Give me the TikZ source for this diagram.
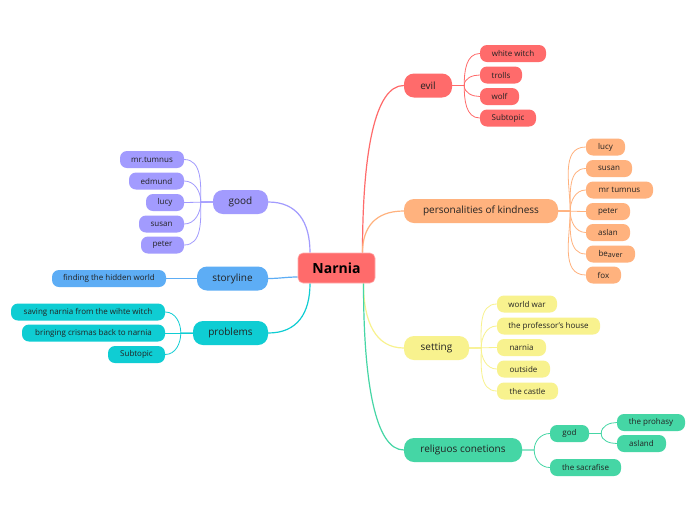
\documentclass[tikz,border=0pt]{standalone}
\usepackage{fontspec}
\setmainfont{Open Sans}
\usetikzlibrary{backgrounds,calc}
\definecolor{cred}{HTML}{FF6B6B}
\definecolor{corange}{HTML}{FFB27E}
\definecolor{cyellow}{HTML}{F8F28E}
\definecolor{cgreen}{HTML}{45D6A5}
\definecolor{cpurple}{HTML}{A29BFE}
\definecolor{cblue}{HTML}{5DADF5}
\definecolor{ccyan}{HTML}{0FCDD3}
\definecolor{txt}{HTML}{222222}
\tikzset{
  root/.style={fill=cred, draw=cred!55!white, line width=0.6pt, rounded corners=5pt, minimum width=77pt, minimum height=30pt, inner sep=0pt, font=\fontsize{14}{16}\selectfont\bfseries, text=black},
  topic/.style={rounded corners=10pt, minimum height=24pt, inner sep=0pt, font=\fontsize{10}{12}\selectfont, text=txt},
  leaf/.style={rounded corners=7pt, minimum height=17pt, inner sep=0pt, font=\fontsize{8}{9}\selectfont, text=txt},
  conn/.style={line width=1.2pt},
  sub/.style={line width=0.8pt},
}
% curved connector: leaves the start vertically, enters the end horizontally
\newcommand\mmlink[3]{\draw[#1] (#2) .. controls ($(#2)!0.6!(#2|-#3)$) and ($(#3)!0.7!(#2|-#3)$) .. (#3);}
\begin{document}
\begin{tikzpicture}[x=1pt,y=1pt]
\begin{scope}[on background layer]
\path[fill=white,use as bounding box] (0,0) rectangle (696,-520);
\end{scope}

% root
\node[root] (root) at (336.5,-268) {Narnia};
\coordinate (rNR) at ([xshift=26pt]root.north);
\coordinate (rSR) at ([xshift=27pt]root.south);
\coordinate (rNL) at ([xshift=-26.5pt]root.north);
\coordinate (rSL) at ([xshift=-26.5pt]root.south);
\coordinate (rW) at ([yshift=-9pt]root.west);

% evil
\node[topic, fill=cred, minimum width=48pt] (evil) at (428,-85.5) {evil};
\node[leaf, fill=cred, minimum width=66pt] (ww) at (513,-53.5) {white witch};
\node[leaf, fill=cred, minimum width=42pt] (trolls) at (501,-75) {trolls};
\node[leaf, fill=cred, minimum width=39pt] (wolf) at (499.5,-96.5) {wolf};
\node[leaf, fill=cred, minimum width=56pt] (esub) at (508,-118) {Subtopic};

% personalities
\node[topic, fill=corange, minimum width=154pt] (pers) at (481,-211) {personalities of kindness};
\node[leaf, fill=corange, minimum width=39pt] (plucy) at (605.5,-147) {lucy};
\node[leaf, fill=corange, minimum width=46pt] (psusan) at (609,-168.5) {susan};
\node[leaf, fill=corange, minimum width=67pt] (ptumnus) at (619.5,-190) {mr tumnus};
\node[leaf, fill=corange, minimum width=44pt] (ppeter) at (608,-211.5) {peter};
\node[leaf, fill=corange, minimum width=44pt] (paslan) at (608,-232.5) {aslan};
\node[leaf, fill=corange, minimum width=49pt] (pbeaver) at (610.5,-254) {be\raisebox{-1.2pt}{\fontsize{7.2}{8}\selectfont aver}};
\node[leaf, fill=corange, minimum width=35pt] (pfox) at (603.5,-275) {fox};

% setting
\node[topic, fill=cyellow, minimum width=65pt] (setting) at (436.5,-348) {setting};
\node[leaf, fill=cyellow, minimum width=60pt] (sww) at (527,-304) {world war};
\node[leaf, fill=cyellow, minimum width=103pt] (sprof) at (548.5,-326) {the professor's house};
\node[leaf, fill=cyellow, minimum width=49pt] (snarnia) at (521.5,-347.5) {narnia};
\node[leaf, fill=cyellow, minimum width=53pt] (sout) at (523.5,-369) {outside};
\node[leaf, fill=cyellow, minimum width=61pt] (scastle) at (527.5,-391) {the castle};

% religious
\node[topic, fill=cgreen, minimum width=118pt] (relig) at (463,-450) {religuos conetions};
\node[leaf, fill=cgreen, minimum width=39pt] (god) at (569.5,-433.5) {god};
\node[leaf, fill=cgreen, minimum width=71pt] (sacr) at (585.5,-467.5) {the sacrafise};
\node[leaf, fill=cgreen, minimum width=68pt] (proh) at (651,-422.5) {the prohasy};
\node[leaf, fill=cgreen, minimum width=49pt] (asland) at (641.5,-443.5) {asland};

% good
\node[topic, fill=cpurple, minimum width=55pt] (good) at (240.5,-202) {good};
\node[leaf, fill=cpurple, minimum width=64pt] (gtumnus) at (152,-159.5) {mr.tumnus};
\node[leaf, fill=cpurple, minimum width=55pt] (gedmund) at (156.5,-181) {edmund};
\node[leaf, fill=cpurple, minimum width=38pt] (glucy) at (165,-202.5) {lucy};
\node[leaf, fill=cpurple, minimum width=45pt] (gsusan) at (161.5,-224) {susan};
\node[leaf, fill=cpurple, minimum width=43pt] (gpeter) at (162.5,-245) {peter};

% storyline
\node[topic, fill=cblue, minimum width=71pt] (story) at (232.5,-278.5) {storyline};
\node[leaf, fill=cblue, minimum width=114pt] (hidden) at (109,-278.5) {finding the hidden world};

% problems
\node[topic, fill=ccyan, minimum width=75pt] (problems) at (230.5,-333) {problems};
\node[leaf, fill=ccyan, minimum width=154pt] (saving) at (88,-312) {saving narnia from the wihte witch};
\node[leaf, fill=ccyan, minimum width=143pt] (bringing) at (93.5,-333) {bringing crismas back to narnia};
\node[leaf, fill=ccyan, minimum width=57pt] (psub) at (136.5,-354.5) {Subtopic};

\begin{scope}[on background layer]
% main connectors
\mmlink{conn, cred}{rNR}{evil.west}
\mmlink{conn, corange}{rNR}{pers.west}
\mmlink{conn, cyellow}{rSR}{setting.west}
\mmlink{conn, cgreen}{rSR}{relig.west}
\mmlink{conn, cpurple}{rNL}{good.east}
\mmlink{conn, ccyan}{rSL}{problems.east}
\draw[conn, cblue] (rW) to[out=180,in=0] (story.east);

% evil children
\draw[sub, cred] (evil.east) -- ++(12,0) to[out=90,in=180] (ww.west);
\draw[sub, cred] (evil.east) -- ++(12,0) to[out=90,in=180] (trolls.west);
\draw[sub, cred] (evil.east) -- ++(12,0) to[out=-90,in=180] (wolf.west);
\draw[sub, cred] (evil.east) -- ++(12,0) to[out=-90,in=180] (esub.west);

% personalities children
\draw[sub, corange] (pers.east) -- ++(12,0) to[out=90,in=180] (plucy.west);
\draw[sub, corange] (pers.east) -- ++(12,0) to[out=90,in=180] (psusan.west);
\draw[sub, corange] (pers.east) -- ++(12,0) to[out=90,in=180] (ptumnus.west);
\draw[sub, corange] (pers.east) -- (ppeter.west);
\draw[sub, corange] (pers.east) -- ++(12,0) to[out=-90,in=180] (paslan.west);
\draw[sub, corange] (pers.east) -- ++(12,0) to[out=-90,in=180] (pbeaver.west);
\draw[sub, corange] (pers.east) -- ++(12,0) to[out=-90,in=180] (pfox.west);

% setting children
\draw[sub, cyellow] (setting.east) -- ++(12,0) to[out=90,in=180] (sww.west);
\draw[sub, cyellow] (setting.east) -- ++(12,0) to[out=90,in=180] (sprof.west);
\draw[sub, cyellow] (setting.east) -- (snarnia.west);
\draw[sub, cyellow] (setting.east) -- ++(12,0) to[out=-90,in=180] (sout.west);
\draw[sub, cyellow] (setting.east) -- ++(12,0) to[out=-90,in=180] (scastle.west);

% religious children
\draw[sub, cgreen] (relig.east) -- ++(12,0) to[out=90,in=180] (god.west);
\draw[sub, cgreen] (relig.east) -- ++(12,0) to[out=-90,in=180] (sacr.west);
\draw[sub, cgreen] (god.east) -- ++(12,0) to[out=90,in=180] (proh.west);
\draw[sub, cgreen] (god.east) -- ++(12,0) to[out=-90,in=180] (asland.west);

% good children
\draw[sub, cpurple] (good.west) -- ++(-12,0) to[out=90,in=0] (gtumnus.east);
\draw[sub, cpurple] (good.west) -- ++(-12,0) to[out=90,in=0] (gedmund.east);
\draw[sub, cpurple] (good.west) -- (glucy.east);
\draw[sub, cpurple] (good.west) -- ++(-12,0) to[out=-90,in=0] (gsusan.east);
\draw[sub, cpurple] (good.west) -- ++(-12,0) to[out=-90,in=0] (gpeter.east);

% storyline child
\draw[sub, cblue] (story.west) -- (hidden.east);

% problems children
\draw[sub, ccyan] (problems.west) -- ++(-12,0) to[out=90,in=0] (saving.east);
\draw[sub, ccyan] (problems.west) -- (bringing.east);
\draw[sub, ccyan] (problems.west) -- ++(-12,0) to[out=-90,in=0] (psub.east);
\end{scope}
\end{tikzpicture}
\end{document}
